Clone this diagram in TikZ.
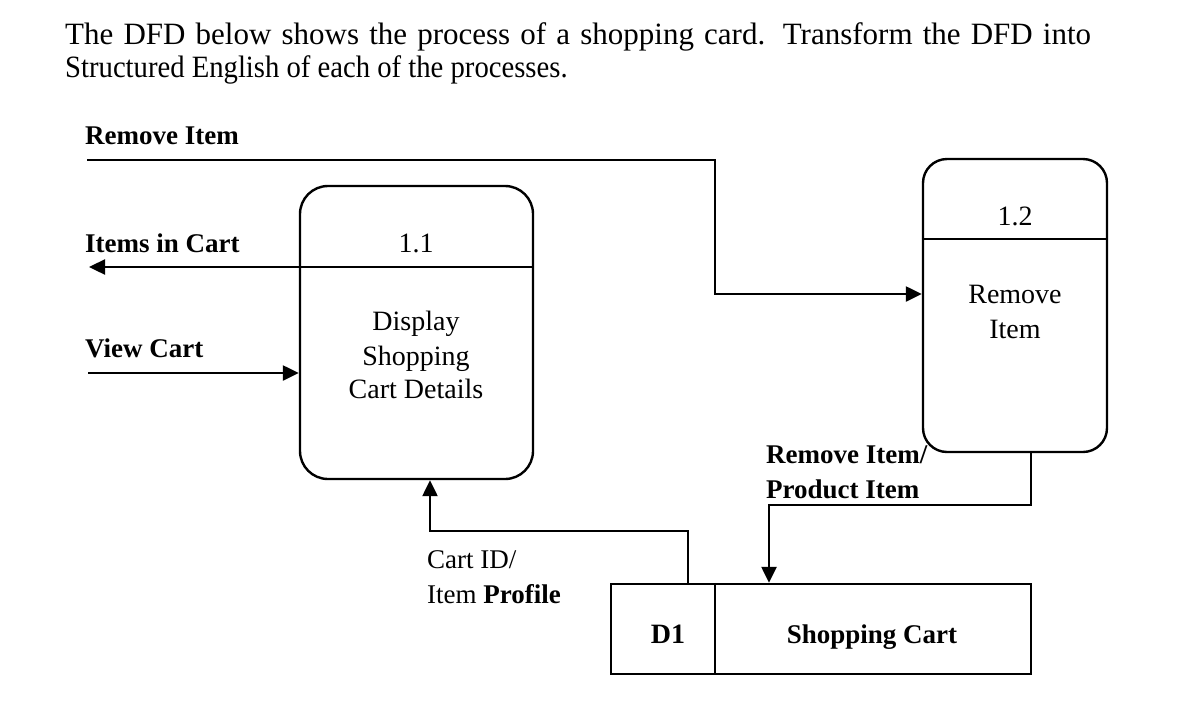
\documentclass[tikz,border=0pt]{standalone}
\usepackage{fontspec}
\usepackage{graphicx}
\setmainfont{Liberation Serif}
\usetikzlibrary{arrows.meta}
\begin{document}
\begin{tikzpicture}[x=0.5pt,y=-0.5pt,
  line width=1.2pt,
  proc/.style={draw, rounded corners=14pt, inner sep=0pt},
  store/.style={draw, inner sep=0pt},
  flow/.style={-{Triangle[length=8pt,width=7.5pt]}},
  lbl/.style={inner sep=0pt, anchor=base west, font=\fontsize{13.5pt}{16pt}\selectfont\bfseries},
  ptxt/.style={inner sep=0pt, anchor=base, font=\fontsize{14pt}{17pt}\selectfont},
  ttl/.style={inner sep=0pt, anchor=base west, font=\fontsize{15.5pt}{18pt}\selectfont}
]
\useasboundingbox (0,0) rectangle (1200,724);

% title
\node[ttl] (t1) at (64,44) {\makebox[513pt][s]{The DFD below shows the process of a shopping card. Transform the DFD into}};
\node[ttl] (t2) at (64,77) {\scalebox{0.925}[1]{Structured English of each of the processes.}};

% processes
\node[proc, minimum width=116.5pt, minimum height=146.5pt] (p11) at (416.5,332.5) {};
\node[proc, rounded corners=12pt, minimum width=92pt, minimum height=146.5pt] (p12) at (1015,305.5) {};
\node[store, minimum width=210pt, minimum height=45pt] (st) at (821,629) {};

% dividers
\coordinate (d11) at (0,267);
\coordinate (d12) at (0,239);
\coordinate (dst) at (715,0);
\draw (p11.west |- d11) -- (p11.east |- d11);
\draw (p12.west |- d12) -- (p12.east |- d12);
\draw (st.north -| dst) -- (st.south -| dst);

% process texts
\node[ptxt] (n11) at (416,252) {1.1};
\node[ptxt] (a1) at (416,330) {Display};
\node[ptxt] (a2) at (416,365) {Shopping};
\node[ptxt] (a3) at (416,398) {Cart Details};
\node[ptxt] (n12) at (1015,225) {1.2};
\node[ptxt] (b1) at (1015,303) {Remove};
\node[ptxt] (b2) at (1015,338) {Item};
\node[ptxt, font=\fontsize{14pt}{17pt}\selectfont\bfseries] (sd) at (668,643) {D1};
\node[ptxt, font=\fontsize{13.5pt}{17pt}\selectfont\bfseries] (sn) at (872,643) {Shopping Cart};

% flow labels
\node[lbl] (lri) at (84,144) {Remove Item};
\node[lbl] (lic) at (84,252) {Items in Cart};
\node[lbl] (lvc) at (84,357) {View Cart};
\node[lbl] (lrp1) at (765,463) {Remove Item/};
\node[lbl] (lrp2) at (765,498) {Product Item};
\node[lbl, font=\fontsize{13.5pt}{16pt}\selectfont] (lci1) at (426,568) {Cart ID/};
\node[lbl, font=\fontsize{13.5pt}{16pt}\selectfont] (lci2) at (426,603) {Item \textbf{Profile}};

% connectors
\coordinate (riS) at (87,160);
\coordinate (riK) at (715,160);
\coordinate (riY) at (0,294);
\draw[flow] (riS) -- (riK) |- (p12.west |- riY);

\coordinate (icE) at (89,267);
\draw[flow] (p11.west |- d11) -- (icE);

\coordinate (vcS) at (88,373);
\draw[flow] (vcS) -- (p11.west |- vcS);

\coordinate (cidA) at (688,531);
\coordinate (cidB) at (430,531);
\draw[flow] (st.north -| cidA) -- (cidA) -- (cidB) -- (p11.south -| cidB);

\coordinate (rpA) at (1031,505);
\coordinate (rpB) at (769,505);
\draw[flow] (p12.south -| rpA) -- (rpA) -- (rpB) -- (st.north -| rpB);
\end{tikzpicture}
\end{document}
